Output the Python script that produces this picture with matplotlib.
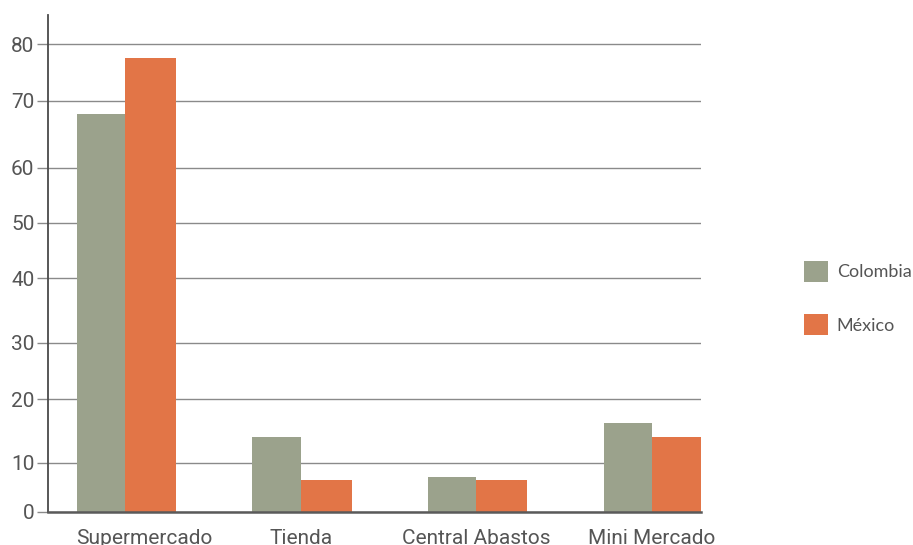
"""Colombia vs México: purchase channel shares, grouped bars."""

import matplotlib
matplotlib.use("Agg")
import matplotlib.pyplot as plt
import matplotlib.transforms as mtransforms
import numpy as np
from matplotlib.patches import Patch

# ---------------------------------------------------------------- data
CATEGORIES = ["Supermercado", "Tienda", "Central Abastos", "Mini Mercado"]
COLOMBIA = [68, 14, 7.1, 16.3]
MEXICO = [77.6, 6.4, 6.4, 14]
SERIES = ["Colombia", "México"]

Y_TICKS = [0, 10, 20, 30, 40, 50, 60, 70, 80]
# the original grid is unevenly spaced: distance of each gridline above the baseline
GRID_SPAN = [0, 49.4, 112.7, 169.0, 233.7, 289.4, 344.3, 411.1, 467.5]

# ---------------------------------------------------------------- theme
GREEN = "#9ba28c"
ORANGE = "#e27547"
GRID = "#8a8a8a"
AXIS = "#4a4a4a"
TEXT = "#555555"

plt.rcParams.update({
    "font.family": ["Roboto", "DejaVu Sans"],
    "figure.dpi": 100,
    "axes.axisbelow": True,
})


def _ext(xs, ys):
    # add a linear extension past both ends so np.interp extrapolates
    xs = list(xs)
    ys = list(ys)
    lo = (ys[1] - ys[0]) / (xs[1] - xs[0])
    hi = (ys[-1] - ys[-2]) / (xs[-1] - xs[-2])
    xs = [xs[0] - 100] + xs + [xs[-1] + 100]
    ys = [ys[0] - 100 * lo] + ys + [ys[-1] + 100 * hi]
    return np.array(xs, float), np.array(ys, float)


VX, VY = _ext(Y_TICKS, GRID_SPAN)


def fwd(v):
    return np.interp(v, VX, VY)


def inv(p):
    return np.interp(p, VY, VX)


fig = plt.figure(figsize=(9.13, 5.45))
ax = fig.add_axes((0.0529, 0.0606, 0.7149, 0.9126))
ax.set_yscale("function", functions=(fwd, inv))

x = np.arange(len(CATEGORIES))
ax.bar(x, COLOMBIA, width=-0.275, align="edge", color=GREEN, zorder=2)
ax.bar(x, MEXICO, width=0.29, align="edge", color=ORANGE, zorder=2)

ax.set_xlim(-0.437, 3.28)
ax.set_ylim(0, 85.3)

ax.set_yticks(Y_TICKS)
ax.set_yticklabels([str(t) for t in Y_TICKS])
ax.yaxis.grid(True, color=GRID, linewidth=1.0)
ax.tick_params(axis="y", length=8, width=1.0, color=GRID, pad=2,
               labelsize=15, labelcolor=TEXT)

ax.set_xticks(x)
ax.set_xticklabels(CATEGORIES)
ax.tick_params(axis="x", length=0, pad=12, labelsize=15, labelcolor=TEXT)
# the first category label sits a little right of its group in the original
first = ax.get_xticklabels()[0]
first.set_transform(first.get_transform()
                    + mtransforms.ScaledTranslation(19 / 100, 0, fig.dpi_scale_trans))

for s in ("top", "right"):
    ax.spines[s].set_visible(False)
ax.spines["left"].set_color(AXIS)
ax.spines["left"].set_linewidth(1.3)
ax.spines["bottom"].set_color("#5a5a5a")
ax.spines["bottom"].set_linewidth(1.8)

handles = [Patch(facecolor=GREEN, edgecolor="none"),
           Patch(facecolor=ORANGE, edgecolor="none")]
fig.legend(handles, SERIES, loc="upper left",
           bbox_to_anchor=(804 / 913, 1 - 261 / 545),
           frameon=False, borderpad=0, borderaxespad=0,
           handlelength=1.32, handleheight=1.4, handletextpad=0.5,
           labelspacing=1.8, labelcolor=TEXT,
           prop={"family": ["Lato", "DejaVu Sans"], "size": 13})

fig.savefig("out.png", dpi=100)
